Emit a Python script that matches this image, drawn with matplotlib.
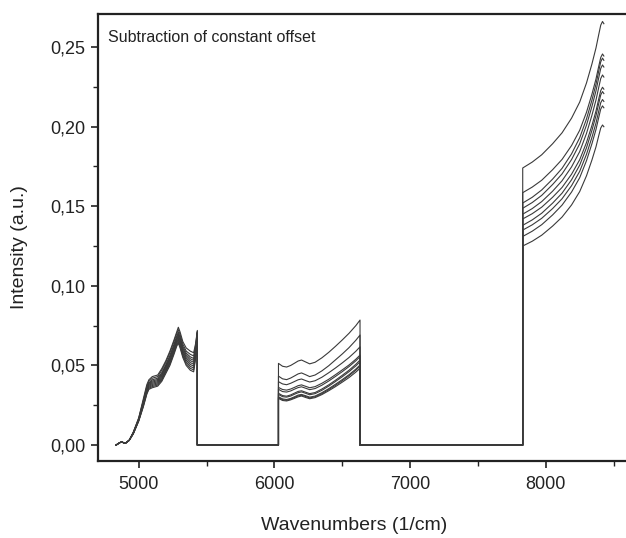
import matplotlib
matplotlib.use("Agg")
import matplotlib.pyplot as plt
from matplotlib.ticker import MultipleLocator, FuncFormatter
import numpy as np

plt.rcParams['font.family'] = ['Liberation Sans', 'DejaVu Sans']

# --- data (10 spectra, three spectral windows) ---
# window 1
x_win1 = [4833, 4860, 4875, 4900, 4930, 4960, 5000, 5034, 5060, 5075, 5100, 5140, 5170,
          5200, 5230, 5260, 5280, 5292, 5305, 5325, 5350, 5380, 5405, 5420, 5432]
y_win1 = [
    [0, 0.0015, 0.002, 0.001, 0.003, 0.008, 0.017, 0.029, 0.038, 0.041, 0.043, 0.044, 0.048,
     0.053, 0.059, 0.066, 0.071, 0.074, 0.071, 0.065, 0.061, 0.059, 0.058, 0.064, 0.072],
    [0, 0.0015, 0.002, 0.001, 0.003, 0.008, 0.017, 0.028, 0.037, 0.040, 0.042, 0.043, 0.047,
     0.052, 0.058, 0.065, 0.070, 0.0725, 0.0695, 0.0635, 0.059, 0.057, 0.056, 0.063, 0.0715],
    [0, 0.0015, 0.002, 0.001, 0.003, 0.008, 0.016, 0.0275, 0.036, 0.039, 0.041, 0.042, 0.0455,
     0.0505, 0.0563, 0.0633, 0.0683, 0.071, 0.068, 0.062, 0.0577, 0.0554, 0.0544, 0.0613, 0.0711],
    [0, 0.0015, 0.002, 0.001, 0.003, 0.0076, 0.0162, 0.027, 0.0356, 0.0386, 0.0402, 0.0412, 0.0448,
     0.0498, 0.0554, 0.0624, 0.0674, 0.070, 0.067, 0.061, 0.0566, 0.0542, 0.0532, 0.0604, 0.0708],
    [0, 0.0015, 0.002, 0.001, 0.003, 0.0075, 0.016, 0.0265, 0.035, 0.038, 0.0395, 0.0405, 0.044,
     0.049, 0.0545, 0.0615, 0.0665, 0.069, 0.066, 0.060, 0.0555, 0.053, 0.052, 0.0595, 0.0705],
    [0, 0.0015, 0.002, 0.001, 0.003, 0.0074, 0.0158, 0.026, 0.0344, 0.0374, 0.0388, 0.0398, 0.0432,
     0.0482, 0.0536, 0.0606, 0.0656, 0.068, 0.065, 0.059, 0.0544, 0.0518, 0.0508, 0.0586, 0.0702],
    [0, 0.0015, 0.002, 0.001, 0.003, 0.0073, 0.0156, 0.0255, 0.0338, 0.0368, 0.0381, 0.0391, 0.0424,
     0.0474, 0.0527, 0.0597, 0.0647, 0.067, 0.064, 0.058, 0.0533, 0.0506, 0.0496, 0.0577, 0.0699],
    [0, 0.0015, 0.002, 0.001, 0.003, 0.0072, 0.0154, 0.025, 0.0332, 0.0362, 0.0374, 0.0384, 0.0416,
     0.0466, 0.0518, 0.0588, 0.0638, 0.066, 0.063, 0.057, 0.0522, 0.0494, 0.0484, 0.0568, 0.0696],
    [0, 0.0015, 0.002, 0.001, 0.003, 0.0071, 0.0152, 0.0245, 0.0326, 0.0356, 0.0367, 0.0377, 0.0408,
     0.0458, 0.0509, 0.0579, 0.0629, 0.065, 0.062, 0.056, 0.0511, 0.0482, 0.0472, 0.0559, 0.0693],
    [0, 0.0015, 0.002, 0.001, 0.003, 0.007, 0.015, 0.024, 0.032, 0.035, 0.036, 0.037, 0.040,
     0.045, 0.050, 0.057, 0.062, 0.064, 0.061, 0.055, 0.050, 0.047, 0.046, 0.055, 0.069],
]

# window 2
x_win2 = [6030, 6060, 6090, 6120, 6150, 6175, 6200, 6230, 6260, 6300, 6350, 6400, 6450,
          6500, 6550, 6600, 6631]
y_win2 = [
    [0.0513, 0.0495, 0.0490, 0.0500, 0.0515, 0.0528, 0.0534, 0.0522, 0.0510, 0.0520, 0.0548,
     0.0582, 0.0620, 0.0660, 0.0702, 0.0750, 0.0785],
    [0.0433, 0.0416, 0.0411, 0.0421, 0.0435, 0.0447, 0.0453, 0.0442, 0.0430, 0.0440, 0.0466,
     0.0498, 0.0535, 0.0572, 0.0612, 0.0658, 0.0691],
    [0.0398, 0.0384, 0.0379, 0.0388, 0.0400, 0.0410, 0.0415, 0.0405, 0.0396, 0.0404, 0.0426,
     0.0454, 0.0484, 0.0516, 0.0550, 0.0589, 0.0617],
    [0.0362, 0.0349, 0.0345, 0.0352, 0.0363, 0.0373, 0.0378, 0.0369, 0.0360, 0.0367, 0.0388,
     0.0413, 0.0442, 0.0472, 0.0503, 0.0539, 0.0565],
    [0.0350, 0.0336, 0.0333, 0.0340, 0.0352, 0.0361, 0.0366, 0.0357, 0.0348, 0.0355, 0.0376,
     0.0402, 0.0431, 0.0461, 0.0493, 0.0529, 0.0555],
    [0.0325, 0.0311, 0.0307, 0.0315, 0.0327, 0.0337, 0.0341, 0.0332, 0.0323, 0.0330, 0.0352,
     0.0378, 0.0407, 0.0438, 0.0470, 0.0507, 0.0534],
    [0.0318, 0.0304, 0.0301, 0.0308, 0.0320, 0.0329, 0.0334, 0.0325, 0.0316, 0.0323, 0.0344,
     0.0370, 0.0399, 0.0429, 0.0461, 0.0497, 0.0523],
    [0.0303, 0.0290, 0.0286, 0.0293, 0.0304, 0.0314, 0.0318, 0.0310, 0.0301, 0.0308, 0.0329,
     0.0354, 0.0382, 0.0411, 0.0442, 0.0477, 0.0503],
    [0.0298, 0.0285, 0.0281, 0.0289, 0.0299, 0.0309, 0.0313, 0.0305, 0.0296, 0.0303, 0.0323,
     0.0348, 0.0375, 0.0404, 0.0435, 0.0470, 0.0495],
    [0.0293, 0.0280, 0.0277, 0.0284, 0.0294, 0.0303, 0.0308, 0.0299, 0.0291, 0.0298, 0.0317,
     0.0341, 0.0367, 0.0395, 0.0424, 0.0458, 0.0482],
]

# window 3
x_win3 = [7830, 7900, 7970, 8050, 8120, 8190, 8250, 8300, 8340, 8370, 8390, 8405, 8418, 8428]
y_win3 = [
    [0.174, 0.1777, 0.1823, 0.1892, 0.1961, 0.2053, 0.2154, 0.2274, 0.2393, 0.2494, 0.2577, 0.2637, 0.266, 0.2646],
    [0.1585, 0.162, 0.1663, 0.1729, 0.1794, 0.1881, 0.1977, 0.209, 0.2203, 0.2299, 0.2378, 0.2434, 0.2456, 0.2443],
    [0.152, 0.1556, 0.1602, 0.167, 0.1738, 0.1829, 0.193, 0.2048, 0.2166, 0.2266, 0.2348, 0.2407, 0.243, 0.2416],
    [0.1487, 0.1523, 0.1568, 0.1636, 0.1703, 0.1793, 0.1892, 0.2009, 0.2126, 0.2225, 0.2306, 0.2365, 0.2387, 0.2374],
    [0.145, 0.1485, 0.1529, 0.1594, 0.166, 0.1747, 0.1843, 0.1957, 0.2071, 0.2167, 0.2245, 0.2302, 0.2324, 0.2311],
    [0.142, 0.1453, 0.1494, 0.1556, 0.1618, 0.1701, 0.1792, 0.190, 0.2007, 0.2098, 0.2173, 0.2226, 0.2247, 0.2235],
    [0.138, 0.1414, 0.1456, 0.1519, 0.1582, 0.1666, 0.1758, 0.1867, 0.1976, 0.2069, 0.2144, 0.2199, 0.222, 0.2207],
    [0.135, 0.1383, 0.1424, 0.1485, 0.1547, 0.1629, 0.1719, 0.1826, 0.1932, 0.2022, 0.2096, 0.215, 0.217, 0.2158],
    [0.131, 0.1343, 0.1384, 0.1445, 0.1507, 0.1589, 0.1679, 0.1786, 0.1892, 0.1982, 0.2056, 0.211, 0.213, 0.2118],
    [0.125, 0.128, 0.1318, 0.1375, 0.1432, 0.1508, 0.1592, 0.1691, 0.179, 0.1873, 0.1942, 0.1991, 0.201, 0.1999],
]

title_text = "Subtraction of constant offset"


def build_spectrum(i):
    """glue the three windows together, zero in the removed regions"""
    xs = np.concatenate([x_win1, [x_win1[-1], x_win2[0]], x_win2,
                         [x_win2[-1], x_win3[0]], x_win3])
    ys = np.concatenate([y_win1[i], [0.0, 0.0], y_win2[i],
                         [0.0, 0.0], y_win3[i]])
    return xs, ys


fig = plt.figure(figsize=(6.26, 5.38), dpi=100)
ax = fig.add_axes([98 / 626, 77 / 538, 529.2 / 626, 447 / 538])

for i in range(len(y_win1)):
    xs, ys = build_spectrum(i)
    ax.plot(xs, ys, color="#3a3a3a", lw=0.8)

ax.set_xlim(4700, 8600)
ax.set_ylim(-0.01, 0.2707)

ax.xaxis.set_major_locator(MultipleLocator(1000))
ax.xaxis.set_minor_locator(MultipleLocator(500))
ax.yaxis.set_major_locator(MultipleLocator(0.05))
ax.yaxis.set_minor_locator(MultipleLocator(0.025))
ax.yaxis.set_major_formatter(FuncFormatter(lambda v, p: f"{v:.2f}".replace(".", ",")))

ax.tick_params(which="major", direction="out", length=5, width=1.2,
               labelsize=13, pad=4, colors="#222222")
ax.tick_params(which="minor", direction="out", length=3.5, width=1.0, colors="#222222")
ax.tick_params(axis="x", which="major", pad=6)
ax.spines["right"].set_visible(False)
for s in ["left", "bottom", "top"]:
    ax.spines[s].set_linewidth(1.6)
    ax.spines[s].set_color("#222222")

ax.set_xlabel("Wavenumbers (1/cm)", fontsize=14, color="#222222")
ax.set_ylabel("Intensity (a.u.)", fontsize=14, color="#222222")
ax.xaxis.set_label_coords(0.484, -0.125)
ax.yaxis.set_label_coords(-0.132, 0.479)

ax.text(0.019, 0.947, title_text, transform=ax.transAxes, fontsize=11.5,
        va="center", ha="left", color="#222222")

fig.savefig("out.png", dpi=100)
